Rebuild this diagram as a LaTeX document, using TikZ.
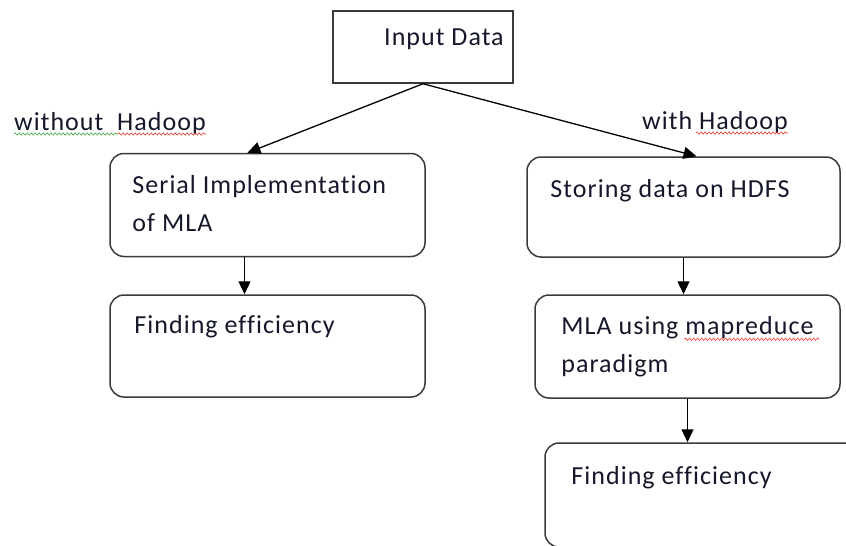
\documentclass[tikz,border=0pt]{standalone}
\usepackage{fontspec}
\setmainfont{Carlito}[LetterSpace=4,Ligatures=CommonOff]
\usetikzlibrary{arrows.meta,decorations.pathmorphing,positioning}
\definecolor{cLine}{HTML}{3A3A3A}
\definecolor{cText}{HTML}{15172A}
\definecolor{cSpell}{HTML}{E8302A}
\definecolor{cGram}{HTML}{3AA03A}

\begin{document}
\begin{tikzpicture}[x=1pt,y=-1pt,
  inbox/.style={draw=cLine,line width=1.5pt,minimum width=180pt,minimum height=72pt,inner sep=0pt},
  stepbox/.style={draw=cLine,line width=1.5pt,rounded corners=14pt,minimum height=103pt,inner sep=0pt},
  txt/.style={font=\fontsize{26}{38}\selectfont,text=cText,align=left,inner sep=0pt,anchor=base west},
  link/.style={-{Triangle[length=13pt,width=12pt]},line width=1.3pt},
  squig/.style={decorate,decoration={snake,amplitude=1.1pt,segment length=4pt},line width=0.6pt}]

\useasboundingbox (0,0) rectangle (846,546);

% top box
\node[inbox] (inp) at (423,47) {};
\node[txt] (inpt) at ([xshift=-39pt,yshift=2pt]inp.center) {Input Data};

%============================ left branch: without Hadoop ============================
\node[txt] (lwo) at (14,130) {without\ \ Hadoop};
\node[stepbox,minimum width=315pt] (s1) at (267.5,205) {};
\node[txt] (s1t) at ([xshift=23pt,yshift=-79pt]s1.north west) {Serial Implementation\\of MLA};
\node[stepbox,minimum width=315pt,minimum height=102pt] (s2) at (267.5,346) {};
\node[txt] (s2t) at ([xshift=25pt,yshift=-39pt]s2.north west) {Finding efficiency};

%============================ right branch: with Hadoop ============================
\node[txt] (rwi) at (642,129) {with Hadoop};
\node[stepbox,minimum width=313pt,minimum height=100pt] (r1) at (683.5,207) {};
\node[txt] (r1t) at ([xshift=24pt,yshift=-41pt]r1.north west) {Storing data on HDFS};
\node[stepbox,minimum width=305pt] (r2) at (687.5,346.5) {};
\node[txt] (r2t) at ([xshift=27pt,yshift=-78pt]r2.north west) {MLA using mapreduce\\paradigm};
\node[stepbox,minimum width=314pt,minimum height=104pt] (r3) at (702,495) {};
\node[txt] (r3t) at ([xshift=27pt,yshift=-42pt]r3.north west) {Finding efficiency};

% connectors
\draw[link] (inp.south) -- ([xshift=-20pt]s1.north);
\draw[link] (inp.south) -- ([xshift=13pt]r1.north);
\draw[link] ([xshift=-23pt]s1.south) -- ([xshift=-23pt]s1.south |- s2.north);
\draw[link] (r1.south) -- (r1.south |- r2.north);
\draw[link] (r2.south) -- (r2.south |- r3.north);

% spell-check marks
\draw[squig,cGram] ([yshift=-4pt]lwo.base west) -- ++(104,0);
\draw[squig,cSpell] ([xshift=104pt,yshift=-4pt]lwo.base west) -- ([yshift=-4pt]lwo.base east);
\draw[squig,cSpell] ([xshift=-92pt,yshift=-4pt]rwi.base east) -- ([yshift=-4pt]rwi.base east);
\draw[squig,cSpell] ([xshift=123pt,yshift=33pt]r2t.base west) -- ++(135,0);

\end{tikzpicture}
\end{document}
